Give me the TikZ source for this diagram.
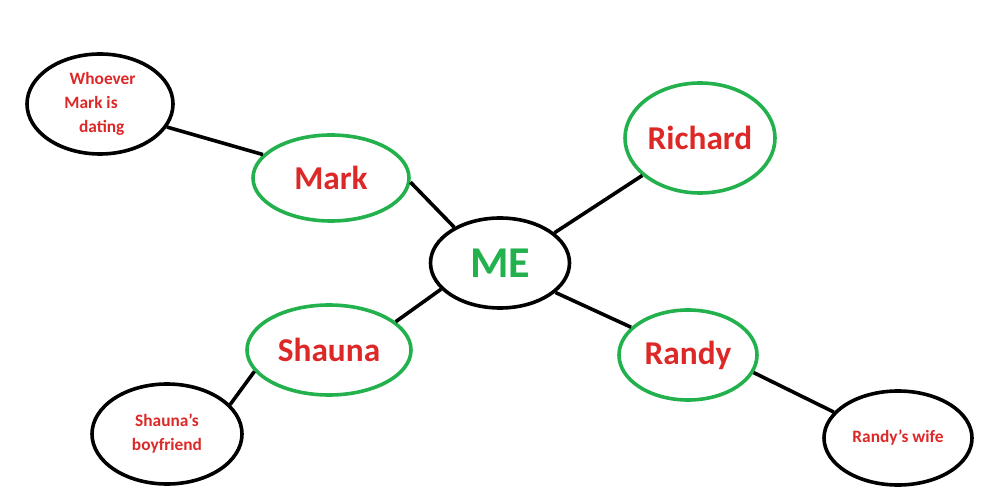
\documentclass[tikz,border=0pt]{standalone}
\usepackage{fontspec}
\setmainfont{Carlito}
\usetikzlibrary{shapes.geometric}
\definecolor{tred}{RGB}{221,40,40}
\definecolor{tgreen}{RGB}{34,177,76}
\tikzset{
 bub/.style={ellipse,draw,line width=2.7pt,inner sep=0pt,font=\bfseries,align=center},
 gb/.style={bub,draw=tgreen,text=tred,font=\bfseries\fontsize{25}{29}\selectfont},
 kb/.style={bub,draw=black,text=tred,font=\bfseries\fontsize{13}{18}\selectfont},
 con/.style={line width=2.7pt}
}
\begin{document}
\begin{tikzpicture}[x=0.75pt,y=-0.75pt]
\useasboundingbox (0,0) rectangle (1002,491);
\node[bub,draw=black,text=tgreen,font=\bfseries\fontsize{33}{38}\selectfont,minimum width=139*0.75pt,minimum height=90*0.75pt] (me) at (500,263) {ME};
\node[gb,minimum width=156*0.75pt,minimum height=86*0.75pt] (mark) at (331,178) {Mark};
\node[gb,minimum width=150*0.75pt,minimum height=110*0.75pt] (richard) at (700,138) {Richard};
\node[gb,minimum width=164*0.75pt,minimum height=90*0.75pt] (shauna) at (329,350) {Shauna};
\node[gb,minimum width=138*0.75pt,minimum height=90*0.75pt] (randy) at (688,355) {Randy};
\node[kb,align=left,minimum width=146*0.75pt,minimum height=100*0.75pt] (who) at (100,104) {\hspace{4pt}Whoever\\Mark is\\\hspace{11pt}dating};
\node[kb,minimum width=150*0.75pt,minimum height=100*0.75pt] (bf) at (167,434) {Shauna{\char39}s\\boyfriend};
\node[kb,minimum width=148*0.75pt,minimum height=94*0.75pt] (wife) at (898,438) {Randy{\char39}s wife};
\draw[con] (me.142) -- (mark.-3);
\draw[con] (me.29) -- (richard.-147);
\draw[con] (me.-156) -- (shauna.23);
\draw[con] (me.-28) -- (randy.154);
\draw[con] (mark.161) -- (who.-19);
\draw[con] (shauna.-164) -- (bf.25);
\draw[con] (randy.-15) -- (wife.158);
\end{tikzpicture}
\end{document}
